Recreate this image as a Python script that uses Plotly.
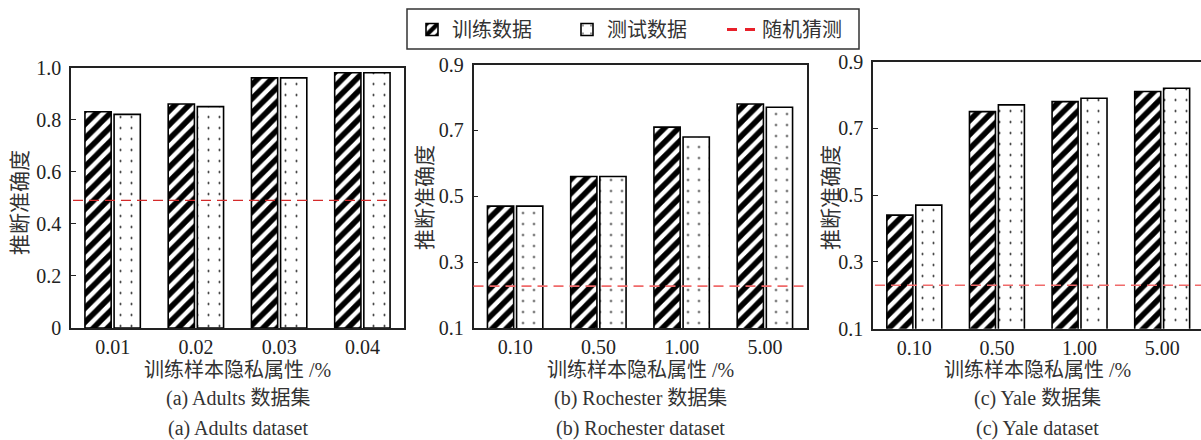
import plotly.graph_objects as go

# ---- data ----
adults_levels = ["0.01", "0.02", "0.03", "0.04"]
adults_train = [0.83, 0.86, 0.96, 0.98]
adults_test = [0.82, 0.85, 0.96, 0.98]
adults_guess = 0.49

rochester_levels = ["0.10", "0.50", "1.00", "5.00"]
rochester_train = [0.47, 0.56, 0.71, 0.78]
rochester_test = [0.47, 0.56, 0.68, 0.77]
rochester_guess = 0.227

yale_levels = ["0.10", "0.50", "1.00", "5.00"]
yale_train = [0.44, 0.75, 0.78, 0.81]
yale_test = [0.47, 0.77, 0.79, 0.82]
yale_guess = 0.23

adults_yticks = [0, 0.2, 0.4, 0.6, 0.8, 1.0]
adults_yticktext = ["0", "0.2", "0.4", "0.6", "0.8", "1.0"]
other_yticks = [0.1, 0.3, 0.5, 0.7, 0.9]
other_yticktext = ["0.1", "0.3", "0.5", "0.7", "0.9"]

train_name = "训练数据"
test_name = "测试数据"
guess_name = "随机猜测"
y_title = "推断准确度"
x_title = "训练样本隐私属性 /%"
captions_cn = ["(a) Adults 数据集", "(b) Rochester 数据集", "(c) Yale 数据集"]
captions_en = ["(a) Adults dataset", "(b) Rochester dataset", "(c) Yale dataset"]

# ---- styling ----
W, H = 1201, 440
SERIF = "Liberation Serif, Noto Sans CJK SC"
CJK = "Noto Sans CJK SC"
INK = "#222222"


def px_x(v):
    return v / W


def px_y(v):
    return 1 - v / H


panels = [
    dict(levels=adults_levels, train=adults_train, test=adults_test, guess=adults_guess,
         x0=71, x1=404, top=67.5, bottom=328, yr=[0, 1.0], yt=adults_yticks, ytt=adults_yticktext,
         xr=[-0.5, 3.5], mirror_y=True, guess_span=(0.006, 0.967), guess_color="#d42a2a",
         guess_width=1.2, ytitle_x=18, ytitle_y=203),
    dict(levels=rochester_levels, train=rochester_train, test=rochester_test, guess=rochester_guess,
         x0=473.5, x1=806.5, top=64.5, bottom=328, yr=[0.1, 0.9], yt=other_yticks, ytt=other_yticktext,
         xr=[-0.5, 3.5], mirror_y=True, guess_span=(0.0, 1.0), guess_color="#f06a6a",
         guess_width=1.6, ytitle_x=423, ytitle_y=198),
    dict(levels=yale_levels, train=yale_train, test=yale_test, guess=yale_guess,
         x0=873, x1=1201, top=61.5, bottom=328.7, yr=[0.1, 0.9], yt=other_yticks, ytt=other_yticktext,
         xr=[-0.5, 3.47], mirror_y=False, guess_span=(0.006, 1.0), guess_color="#f06a6a",
         guess_width=1.6, ytitle_x=829, ytitle_y=198),
]

fig = go.Figure()
layout = dict(
    width=W, height=H,
    margin=dict(l=0, r=0, t=0, b=0, autoexpand=False),
    paper_bgcolor="white", plot_bgcolor="white",
    barmode="group", bargap=0.30, bargroupgap=0.10,
    showlegend=True,
    font=dict(family=SERIF, size=20, color=INK),
)
shapes = []
annotations = []

for i, p in enumerate(panels):
    n = "" if i == 0 else str(i + 1)
    xa, ya = "x" + n, "y" + n
    fig.add_trace(go.Bar(
        x=p["levels"], y=p["train"], name=train_name, xaxis=xa, yaxis=ya,
        showlegend=(i == 0), legendrank=1,
        marker=dict(color="white", line=dict(color="black", width=1.6),
                    pattern=dict(shape="/", fillmode="overlay", fgcolor="#000000", fgopacity=1,
                                 size=10, solidity=0.55)),
    ))
    fig.add_trace(go.Bar(
        x=p["levels"], y=p["test"], name=test_name, xaxis=xa, yaxis=ya,
        showlegend=(i == 0), legendrank=2,
        marker=dict(color="white", line=dict(color="black", width=1.6),
                    pattern=dict(shape=".", fillmode="overlay", fgcolor="#000000", fgopacity=1,
                                 size=11, solidity=0.025)),
    ))

    layout["xaxis" + n] = dict(
        domain=[px_x(p["x0"]), px_x(p["x1"])], anchor=ya, type="category",
        range=p["xr"], showline=True, linecolor=INK, linewidth=1.6, mirror=True,
        ticks="", showgrid=False, zeroline=False, fixedrange=True, automargin=False,
        tickfont=dict(family=SERIF, size=20, color=INK),
    )
    layout["yaxis" + n] = dict(
        domain=[px_y(p["bottom"]), px_y(p["top"])], anchor=xa,
        range=p["yr"], tickvals=p["yt"], ticktext=p["ytt"],
        showline=True, linecolor=INK, linewidth=1.6, mirror=p["mirror_y"],
        ticks="inside", ticklen=5, tickwidth=1.2, tickcolor=INK,
        showgrid=False, zeroline=False, fixedrange=True, ticklabelstandoff=4, automargin=False,
        tickfont=dict(family=SERIF, size=20, color=INK),
    )

    shapes.append(dict(
        type="line", xref=xa + " domain", yref=ya,
        x0=p["guess_span"][0], x1=p["guess_span"][1], y0=p["guess"], y1=p["guess"],
        line=dict(color=p["guess_color"], width=p["guess_width"], dash="10px,6px"), layer="above",
    ))

    cx = (p["x0"] + p["x1"]) / 2
    annotations += [
        dict(text=y_title, x=px_x(p["ytitle_x"]), y=px_y(p["ytitle_y"]), xref="paper", yref="paper",
             textangle=-90, showarrow=False, xanchor="center", yanchor="middle",
             font=dict(family=CJK, size=21, color="#333333")),
        dict(text=x_title, x=px_x(cx), y=px_y(370), xref="paper", yref="paper",
             showarrow=False, xanchor="center", yanchor="middle",
             font=dict(family=SERIF, size=20, color="#333333")),
        dict(text=captions_cn[i], x=px_x(cx), y=px_y(398), xref="paper", yref="paper",
             showarrow=False, xanchor="center", yanchor="middle",
             font=dict(family=SERIF, size=20, color="#333333")),
        dict(text=captions_en[i], x=px_x(cx), y=px_y(428), xref="paper", yref="paper",
             showarrow=False, xanchor="center", yanchor="middle",
             font=dict(family=SERIF, size=20, color="#333333")),
    ]

# legend entry for the chance-level line
fig.add_trace(go.Scatter(
    x=[None], y=[None], mode="lines", name=guess_name, legendrank=3,
    line=dict(color="#e8202a", width=3, dash="10px,8px"),
))

# legend frame
shapes.append(dict(type="rect", xref="paper", yref="paper",
                   x0=px_x(407), x1=px_x(859), y0=px_y(49), y1=px_y(9),
                   line=dict(color="#333333", width=1.5), fillcolor="rgba(0,0,0,0)"))

layout["legend"] = dict(
    orientation="h", x=px_x(412), y=px_y(10), xanchor="left", yanchor="top",
    bgcolor="rgba(0,0,0,0)", borderwidth=0, entrywidth=110, entrywidthmode="pixels",
    font=dict(family=CJK, size=20, color="#333333"), traceorder="normal",
)
layout["shapes"] = shapes
layout["annotations"] = annotations
fig.update_layout(**layout)

fig.write_html("out.html")
